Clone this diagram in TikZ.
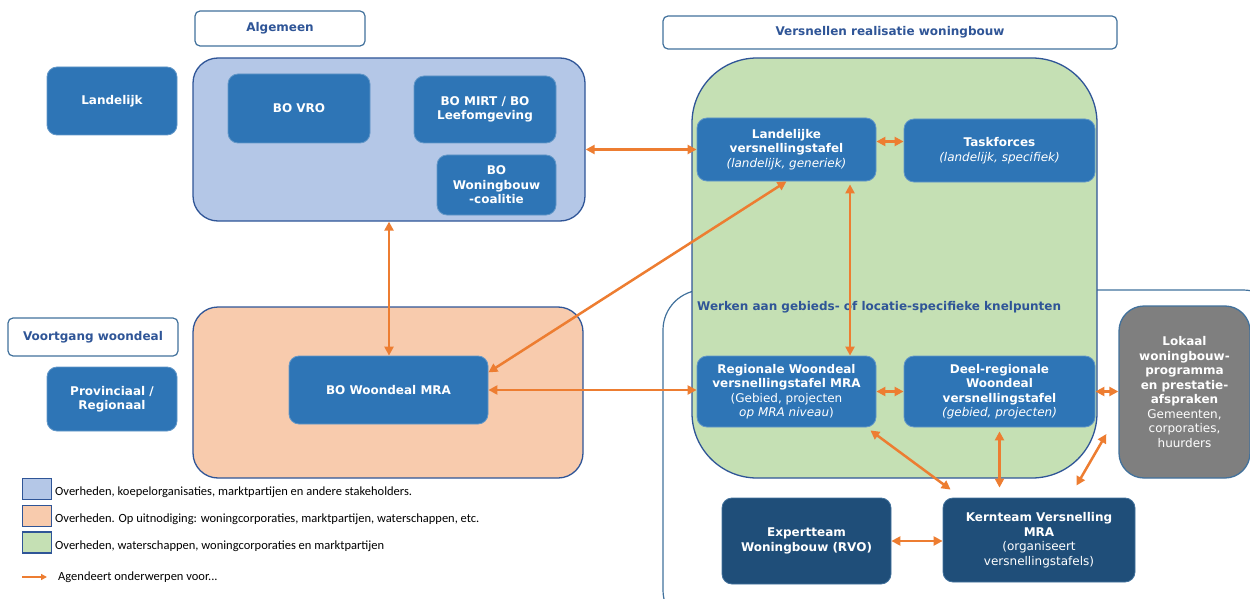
\documentclass[tikz,border=0pt]{standalone}
\usepackage{fontspec}
\setmainfont{DejaVu Sans}
\newfontfamily\legendfont{Carlito}
\usetikzlibrary{arrows.meta}
\definecolor{hdrblue}{HTML}{2F5597}
\definecolor{edgeblue}{HTML}{41719C}
\definecolor{boxblue}{HTML}{2E75B6}
\definecolor{navyblue}{HTML}{1F4E79}
\definecolor{lightblue}{HTML}{B4C7E7}
\definecolor{peach}{HTML}{F8CBAD}
\definecolor{lightgreen}{HTML}{C5E0B4}
\definecolor{arrorange}{HTML}{ED7D31}
\definecolor{greybox}{HTML}{7F7F7F}
\newcommand{\boxfont}{\fontsize{12}{14.5}\selectfont}

\begin{document}
\begin{tikzpicture}[x=1pt, y=-1pt, font=\boxfont, inner sep=0pt,
    header/.style={draw=edgeblue, line width=1.2pt, fill=white, rounded corners=5pt,
        text=hdrblue, font=\boxfont\bfseries},
    group/.style={draw=hdrblue, line width=1.3pt, rounded corners=25pt},
    org/.style={draw=boxblue!75!white, line width=0.8pt, fill=boxblue, text=white,
        rounded corners=10pt, align=center},
    team/.style={org, fill=navyblue, draw=edgeblue},
    legbox/.style={draw=hdrblue, line width=1.5pt, minimum width=29, minimum height=21},
    legtext/.style={anchor=west, font=\legendfont\fontsize{12.5}{14}\selectfont},
    link/.style={<->, draw=arrorange, line width=2.5pt, >={Triangle[length=9pt,width=9pt]}},
]
    \useasboundingbox (0,0) rectangle (1250,599);

    % headers
    \node[header, minimum width=170, minimum height=35] (alghdr) at (280,28.5) {Algemeen};
    \node[header, minimum width=454, minimum height=33] (vershdr) at (890,32.5) {Versnellen realisatie woningbouw};
    \node[header, minimum width=170, minimum height=38] (voorthdr) at (93,337) {Voortgang woondeal};

    % outer box, cut off at the page edge
    \begin{scope}
        \clip (0,0) rectangle (1250,599);
        \node[draw=edgeblue, line width=1.2pt, rounded corners=40pt, minimum width=620, minimum height=340] (werkbox) at (973,460) {};
    \end{scope}

    % groups
    \node[group, fill=lightblue, minimum width=392, minimum height=163] (algbox) at (389,139.5) {};
    \node[group, fill=peach, minimum width=390, minimum height=171] (orangebox) at (388,392.5) {};
    \node[group, fill=lightgreen, rounded corners=65pt, minimum width=405, minimum height=420] (greenbox) at (894.5,268) {};
    \node[anchor=west, text=hdrblue, font=\boxfont\bfseries] (werktitle) at (697,307) {Werken aan gebieds- of locatie-specifieke knelpunten};

    % levels
    \node[org, minimum width=130, minimum height=68] (landelijk) at (112,101) {\bfseries Landelijk};
    \node[org, minimum width=130, minimum height=64] (provreg) at (112,399) {\bfseries Provinciaal /\\\bfseries Regionaal};

    % Algemeen
    \node[org, minimum width=142, minimum height=69] (bovro) at (299,108.5) {\bfseries BO VRO};
    \node[org, minimum width=142, minimum height=67] (bomirt) at (485,109.5) {\bfseries BO MIRT / BO\\\bfseries Leefomgeving};
    \node[org, minimum width=119, minimum height=60] (bowb) at (496.5,185) {\bfseries BO\\\bfseries Woningbouw\\\bfseries -coalitie};

    % Voortgang woondeal
    \node[org, minimum width=199, minimum height=68] (bowoondeal) at (388.5,390) {\bfseries BO Woondeal MRA};

    % Versnellen
    \node[org, minimum width=179, minimum height=63] (landvst) at (786.5,149.5)
        {\bfseries Landelijke\\\bfseries versnellingstafel\\\itshape (landelijk, generiek)};
    \node[org, minimum width=191, minimum height=63] (taskf) at (999.5,150.5)
        {\bfseries Taskforces\\\itshape (landelijk, specifiek)};
    \node[org, minimum width=179, minimum height=71] (regvst) at (786.5,391.5)
        {\bfseries Regionale Woondeal\\\bfseries versnellingstafel MRA\\(Gebied, projecten\\\textit{op MRA niveau})};
    \node[org, minimum width=191, minimum height=71] (deelvst) at (999.5,391.5)
        {\bfseries Deel-regionale\\\bfseries Woondeal\\\bfseries versnellingstafel\\\itshape (gebied, projecten)};
    \node[org, fill=greybox, draw=edgeblue, line width=1.3pt, rounded corners=25pt, minimum width=131, minimum height=172] (lokaal) at (1184.5,392)
        {\bfseries Lokaal\\\bfseries woningbouw-\\\bfseries programma\\\bfseries en prestatie-\\\bfseries afspraken\\Gemeenten,\\corporaties,\\huurders};
    \node[team, minimum width=169, minimum height=86] (expert) at (806.5,541) {\bfseries Expertteam\\\bfseries Woningbouw (RVO)};
    \node[team, minimum width=192, minimum height=84] (kernteam) at (1039,540)
        {\bfseries Kernteam Versnelling\\\bfseries MRA\\(organiseert\\versnellingstafels)};

    % connectors
    \draw[link] (algbox.east |- landvst.west) -- (landvst.west);
    \draw[link] ([yshift=8pt]landvst.east) -- ([yshift=8pt]landvst.east -| taskf.west);
    \draw[link] (algbox.south) -- (algbox.south |- bowoondeal.north);
    \draw[link] (landvst.south) -- (bowoondeal.10);
    \draw[link] ([xshift=63.5pt,yshift=-3pt]landvst.south) -- ([xshift=63.5pt]landvst.south |- regvst.north);
    \draw[link] (bowoondeal.east) -- (bowoondeal.east -| regvst.west);
    \draw[link] (regvst.east) -- (regvst.east -| deelvst.west);
    \draw[link] (deelvst.east) -- (deelvst.east -| lokaal.west);
    \draw[link] ([xshift=-6pt,yshift=-3pt]regvst.south east) -- ([xshift=8pt,yshift=8pt]kernteam.north west);
    \draw[link] ([yshift=-4pt]deelvst.south) -- ([yshift=10pt]deelvst.south |- kernteam.north);
    \draw[link] ([shift={(-12,42)}]lokaal.west) -- ([shift={(-59,-12)}]kernteam.north east);
    \draw[link] (expert.east) -- (expert.east -| kernteam.west);

    % legend
    \node[legbox, fill=lightblue] (leg1) at (37,489) {};
    \node[legtext] (leg1txt) at (55,492) {Overheden, koepelorganisaties, marktpartijen en andere stakeholders.};
    \node[legbox, fill=peach] (leg2) at (37,516) {};
    \node[legtext] (leg2txt) at (55,519) {Overheden. Op uitnodiging: woningcorporaties, marktpartijen, waterschappen, etc.};
    \node[legbox, fill=lightgreen] (leg3) at (37,542.5) {};
    \node[legtext] (leg3txt) at (55,546) {Overheden, waterschappen, woningcorporaties en marktpartijen};
    \coordinate (legA) at (22,577);
    \node[legtext] (leg4txt) at (58,577) {Agendeert onderwerpen voor...};
    \draw[-{Triangle[length=6pt,width=6pt]}, draw=arrorange, line width=1.8pt, shorten >=11pt] (legA) -- (leg4txt.west);
\end{tikzpicture}
\end{document}
